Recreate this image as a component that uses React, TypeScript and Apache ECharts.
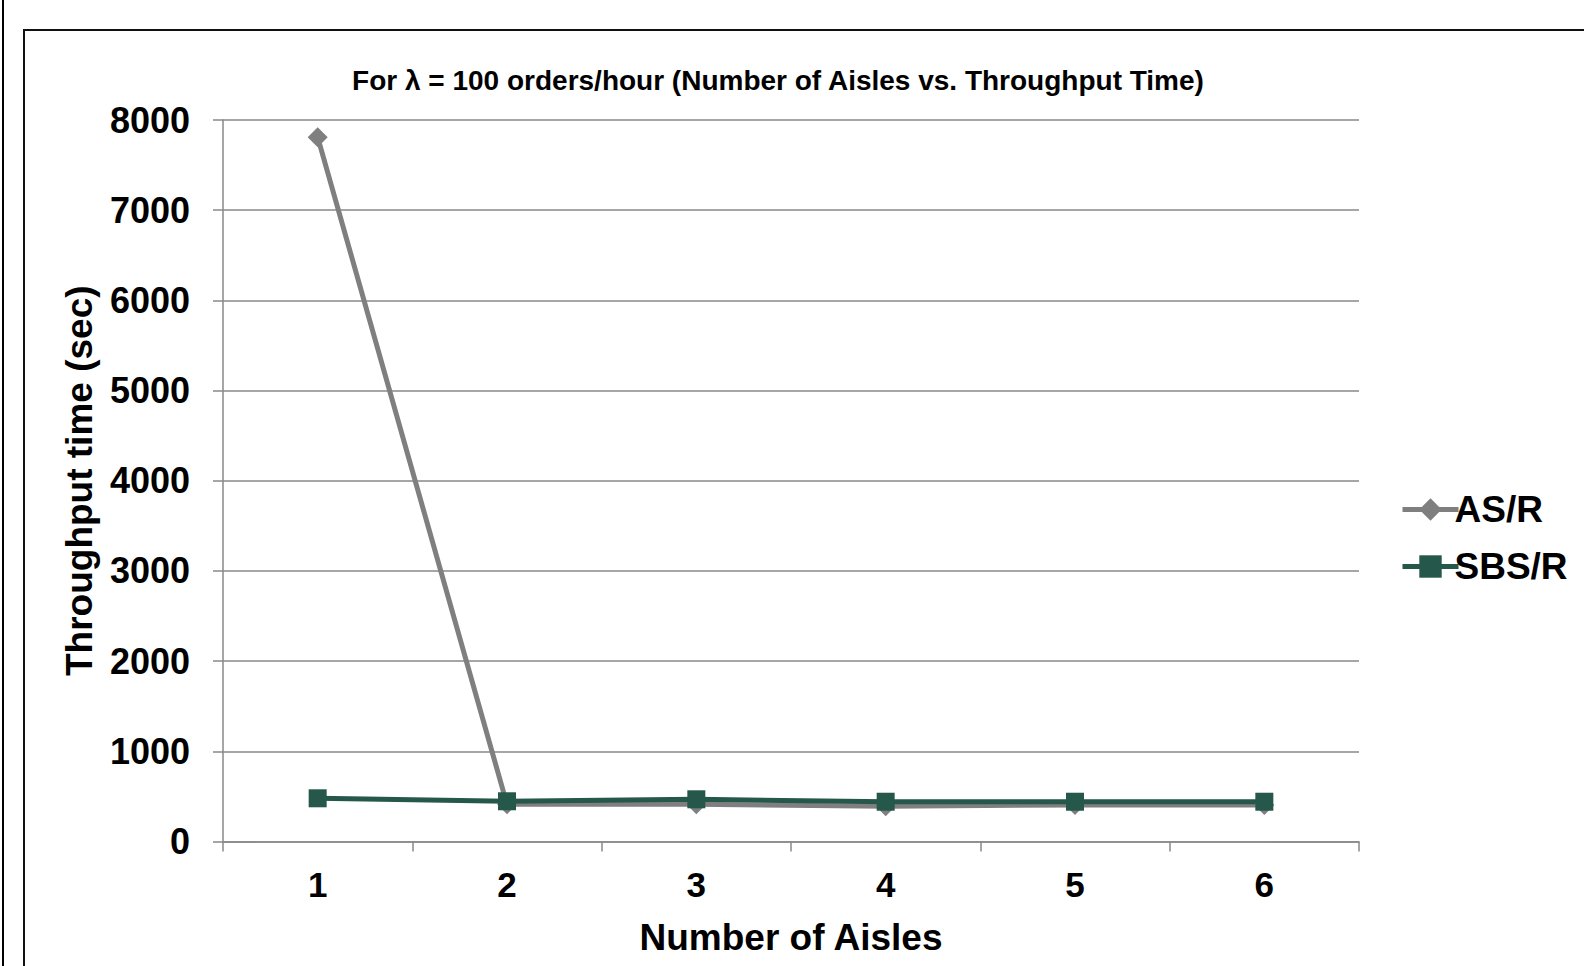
import React, { useEffect, useRef } from "react";
import * as echarts from "echarts";

const categories = ["1", "2", "3", "4", "5", "6"];
const asrValues = [7810, 412, 412, 392, 406, 404];
const sbsrValues = [479, 446, 468, 441, 441, 441];
const yTicks = { min: 0, max: 8000, interval: 1000 };
const titleText = "For \u03bb = 100 orders/hour (Number of Aisles vs. Throughput Time)";

export default function App() {
  const ref = useRef<HTMLDivElement>(null);
  useEffect(() => {
    document.body.style.margin = "0";
    const chart = echarts.init(ref.current!, null, { renderer: "svg" });
    const font = "'Liberation Sans', Arial, sans-serif";
    chart.setOption({
      animation: false,
      backgroundColor: "#ffffff",
      textStyle: { fontFamily: font },
      title: {
        text: titleText,
        left: 773,
        top: 61,
        textAlign: "center",
        textStyle: { fontFamily: font, fontWeight: "bold", fontSize: 28, color: "#000" },
      },
      graphic: [
        { type: "line", shape: { x1: 3, y1: 0, x2: 3, y2: 966 }, style: { stroke: "#000", lineWidth: 2 } },
        { type: "rect", shape: { x: 24, y: 30, width: 1600, height: 1000 }, style: { fill: "none", stroke: "#111", lineWidth: 2 } },
      ],
      legend: {
        orient: "vertical",
        left: 1395,
        top: 486,
        itemWidth: 56,
        itemHeight: 28,
        itemGap: 20,
        textStyle: { fontFamily: font, fontWeight: "bold", fontSize: 37, color: "#000", padding: [0, 0, 0, -9] },
        data: [
          { name: "AS/R", lineStyle: { width: 5, color: "#7f7f7f" } },
          { name: "SBS/R", lineStyle: { width: 5, color: "#25574a" } },
        ],
      },
      grid: { left: 223, right: 225, top: 120, bottom: 124.5, containLabel: false },
      xAxis: {
        type: "category",
        data: categories,
        boundaryGap: true,
        name: "Number of Aisles",
        nameLocation: "middle",
        nameGap: 77,
        nameTextStyle: { fontFamily: font, fontWeight: "bold", fontSize: 37, color: "#000" },
        axisLine: { lineStyle: { color: "#888", width: 1.5 } },
        axisTick: { show: true, length: 10, inside: false, lineStyle: { color: "#888", width: 1.5 } },
        axisLabel: { margin: 25, fontFamily: font, fontWeight: "bold", fontSize: 35, color: "#000" },
      },
      yAxis: {
        type: "value",
        min: yTicks.min,
        max: yTicks.max,
        interval: yTicks.interval,
        name: "Throughput time (sec)",
        nameLocation: "middle",
        nameGap: 125,
        nameTextStyle: { fontFamily: font, fontWeight: "bold", fontSize: 37, color: "#000" },
        axisLine: { show: true, lineStyle: { color: "#888", width: 1.5 } },
        axisTick: { show: true, length: 10, lineStyle: { color: "#888", width: 1.5 } },
        axisLabel: { margin: 33, fontFamily: font, fontWeight: "bold", fontSize: 36, color: "#000", formatter: (v: number) => String(v) },
        splitLine: { show: true, lineStyle: { color: "#888", width: 1.5 } },
      },
      series: [
        {
          name: "AS/R",
          type: "line",
          data: asrValues,
          symbol: "diamond",
          symbolSize: 20,
          lineStyle: { color: "#7f7f7f", width: 5 },
          itemStyle: { color: "#7f7f7f" },
        },
        {
          name: "SBS/R",
          type: "line",
          data: sbsrValues,
          symbol: "rect",
          symbolSize: 18,
          lineStyle: { color: "#25574a", width: 5 },
          itemStyle: { color: "#25574a" },
        },
      ],
    });
    return () => chart.dispose();
  }, []);
  return <div ref={ref} style={{ position: "absolute", left: 0, top: 0, width: 1584, height: 966 }} />;
}
